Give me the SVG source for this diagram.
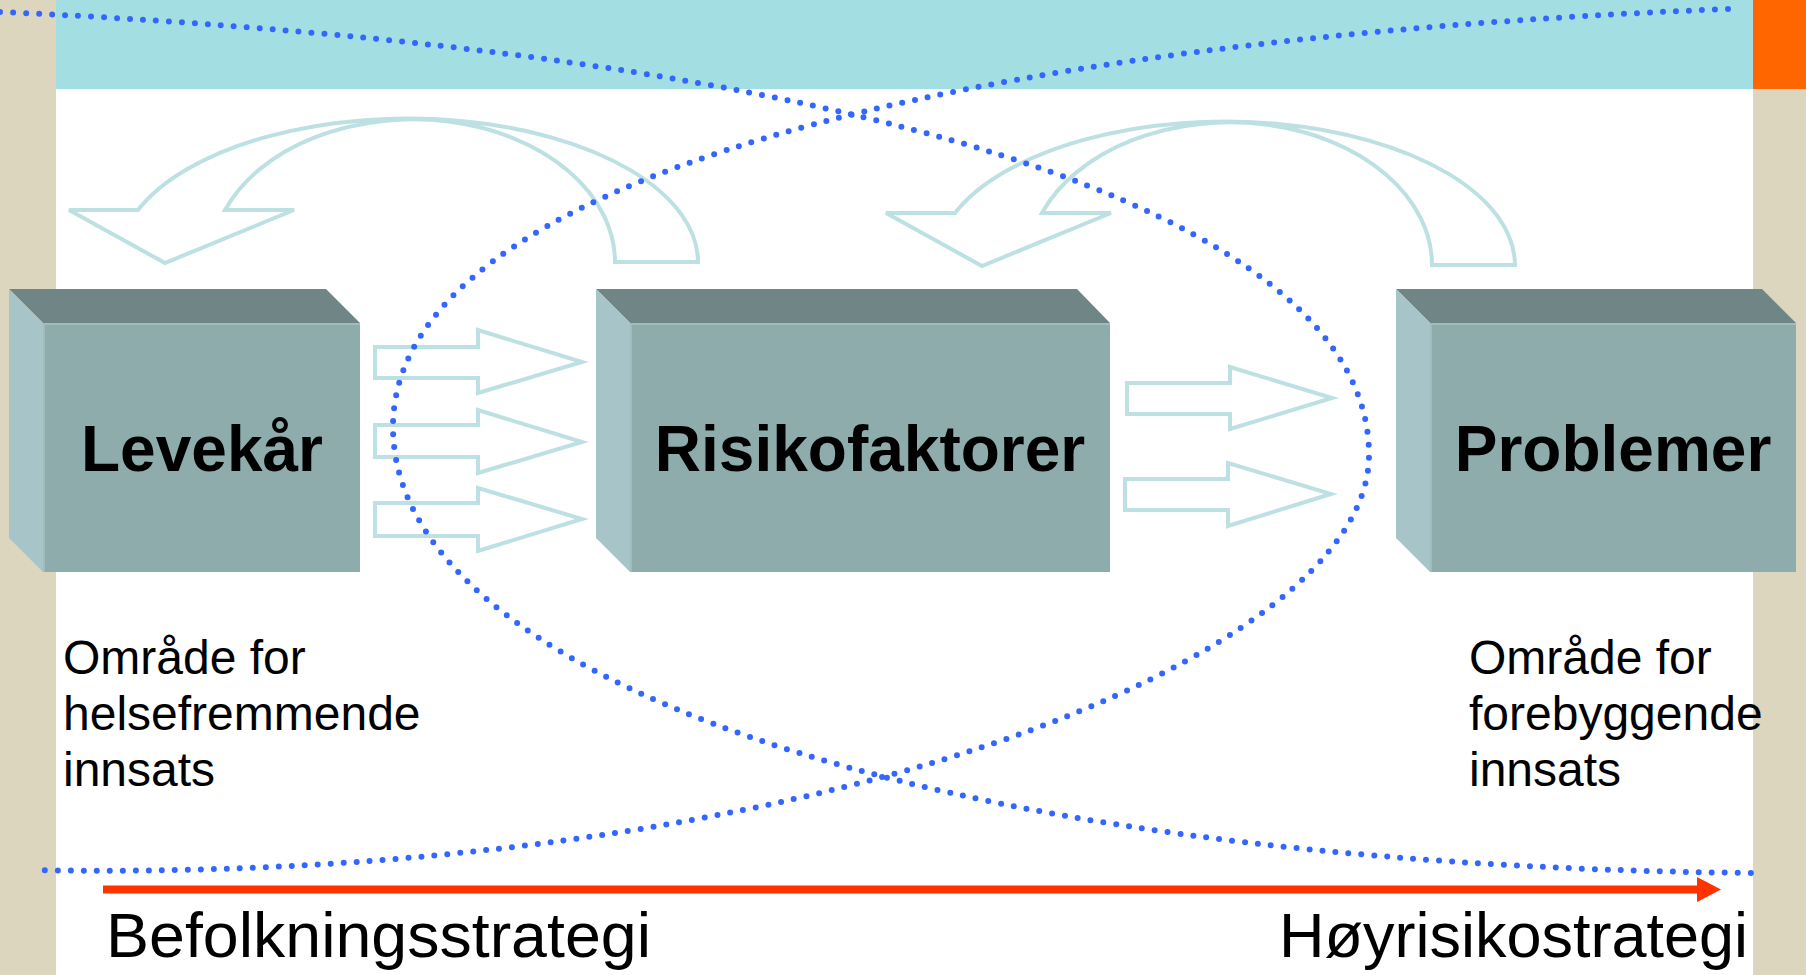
<svg xmlns="http://www.w3.org/2000/svg" width="1806" height="975" viewBox="0 0 1806 975">
<defs>
<style>
.top{fill:#6F8586}
.side{fill:#A7C5C8}
.front{fill:#8FACAD}
.edge{fill:none;stroke:#A0BCBD;stroke-width:2}
.boxtxt{font-family:"Liberation Sans",Arial,sans-serif;font-weight:bold;font-size:64px;fill:#000;text-anchor:middle}
.lbl{font-family:"Liberation Sans",Arial,sans-serif;font-size:48px;fill:#000}
.big{font-family:"Liberation Sans",Arial,sans-serif;font-size:63px;fill:#000}
.hollow{fill:#fff;stroke:#BDE0E3;stroke-width:4;stroke-linejoin:miter}
.curve{fill:none;stroke:#BDE0E3;stroke-width:4}
.dots{fill:none;stroke:#3366FF;stroke-width:6;stroke-linecap:round;stroke-dasharray:0 13}
</style>
</defs>
<rect x="0" y="0" width="1806" height="975" fill="#DDD6BF"/>
<rect x="56" y="0" width="1697" height="975" fill="#FFFFFF"/>
<rect x="56" y="0" width="1697" height="89" fill="#A3DFE2"/>
<rect x="1753" y="0" width="53" height="89" fill="#FF6600"/>

<g id="levekar">
<polygon class="top" points="9,289 326,289 360,323 43,323"/>
<polygon class="side" points="9,289 43,323 43,572 9,538"/>
<rect class="front" x="43" y="323" width="317" height="249"/>
<polyline class="edge" points="44,572 44,324 360,324"/>
<text class="boxtxt" x="202" y="471">Levekår</text>
</g>

<g id="risikofaktorer">
<polygon class="top" points="596,289 1077,289 1110,323 630,323"/>
<polygon class="side" points="596,289 630,323 630,572 596,538"/>
<rect class="front" x="630" y="323" width="480" height="249"/>
<polyline class="edge" points="631,572 631,324 1110,324"/>
<text class="boxtxt" x="870" y="471">Risikofaktorer</text>
</g>

<g id="problemer">
<polygon class="top" points="1396,289 1762,289 1796,323 1430,323"/>
<polygon class="side" points="1396,289 1430,323 1430,572 1396,538"/>
<rect class="front" x="1430" y="323" width="366" height="249"/>
<polyline class="edge" points="1431,572 1431,324 1796,324"/>
<text class="boxtxt" x="1613" y="471">Problemer</text>
</g>

<g id="label-helsefremmende">
<text class="lbl" x="63" y="674">Område for</text>
<text class="lbl" x="63" y="730">helsefremmende</text>
<text class="lbl" x="63" y="786">innsats</text>
</g>

<g id="label-forebyggende">
<text class="lbl" x="1469" y="674">Område for</text>
<text class="lbl" x="1469" y="730">forebyggende</text>
<text class="lbl" x="1469" y="786">innsats</text>
</g>

<g id="connectors">
<path id="curved-left" class="curve" d="M 615,262 L 698,262 A 290 144 0 0 0 138,210 L 69,210 L 165,263 L 294,210 L 225,210 A 202 143 0 0 1 615,262 Z"/>
<path id="curved-right" class="curve" transform="translate(817,3)" d="M 615,262 L 698,262 A 290 144 0 0 0 138,210 L 69,210 L 165,263 L 294,210 L 225,210 A 202 143 0 0 1 615,262 Z"/>
<polygon class="hollow" points="375,347 478,347 478,330 582,362 478,393 478,378 375,378"/>
<polygon class="hollow" points="375,425 478,425 478,410 582,442 478,473 478,457 375,457"/>
<polygon class="hollow" points="375,503 478,503 478,488 582,519 478,551 478,536 375,536"/>
<polygon class="hollow" points="1127,383 1230,383 1230,367 1332,398 1230,429 1230,414 1127,414"/>
<polygon class="hollow" points="1125,479 1228,479 1228,463 1331,494 1228,526 1228,510 1125,510"/>
<rect x="103" y="885.5" width="1596" height="8" fill="#FF3300"/>
<polygon points="1697,877 1721,889.5 1697,902" fill="#FF3300"/>
</g>

<g id="strategy-labels">
<text class="big" x="106" y="957" textLength="545" lengthAdjust="spacingAndGlyphs">Befolkningsstrategi</text>
<text class="big" x="1279" y="957">Høyrisikostrategi</text>
</g>

<g id="dotted-curves">
<path class="dots" d="M 0,12 C 850,50 1369,210 1369,455 C 1369,660 800,885 32,870"/>
<path class="dots" d="M 1728,9 C 950,40 393,180 393,427 C 393,670 900,865 1756,873"/>
</g>
</svg>
